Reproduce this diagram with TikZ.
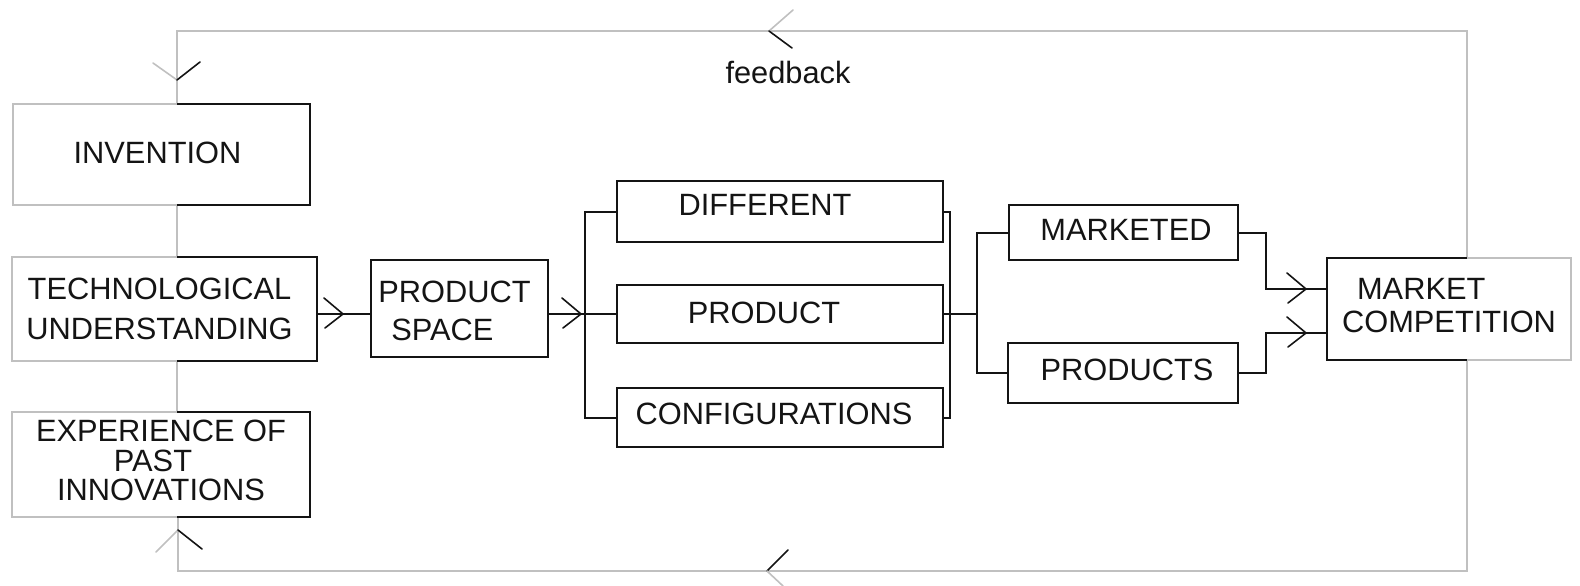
\documentclass[tikz,border=0pt]{standalone}
\usepackage{fontspec}
\setmainfont{Liberation Sans}
\usetikzlibrary{calc}
\definecolor{ink}{RGB}{20,20,20}
\definecolor{fbgray}{RGB}{192,192,192}
\newcommand\shiftedtext[3]{\hspace*{#1}\raisebox{#2}[\height][\depth]{#3}\hspace*{-#1}}
\tikzset{
  blk/.style={draw=ink, line width=2pt},
  gry/.style={draw=fbgray, line width=2pt},
  box/.style={rectangle, inner sep=0pt, outer sep=0pt, text=ink, font=\fontsize{30.8}{36}\selectfont},
  solidbox/.style={box, blk},
  wingb/.style={draw=ink, line width=1.6pt, line cap=round},
  wingg/.style={draw=fbgray, line width=1.6pt, line cap=round},
}
\begin{document}
\begin{tikzpicture}[x=1pt, y=-1pt]
\useasboundingbox (0,0) rectangle (1580,586);

% boxes
\node[box, minimum width=297pt, minimum height=101pt] (inv) at (161.5,154.5) {\shiftedtext{-4pt}{2pt}{INVENTION}};
\node[box, minimum width=305pt, minimum height=104pt, font=\fontsize{30.8}{40}\selectfont] (tech) at (164.5,309)
  {\shiftedtext{-5pt}{-2pt}{\begin{tabular}{@{}c@{}}TECHNOLOGICAL\\UNDERSTANDING\end{tabular}}};
\node[box, minimum width=298pt, minimum height=105pt, font=\fontsize{30.8}{27.5}\selectfont] (exp) at (161,464.5)
  {\begin{tabular}{@{}c@{}}EXPERIENCE OF\\PAST\hspace*{16pt}\\INNOVATIONS\end{tabular}};
\node[solidbox, minimum width=177pt, minimum height=97pt, font=\fontsize{30.8}{38}\selectfont] (ps) at (459.5,308.5)
  {\shiftedtext{-5pt}{-5.6pt}{\begin{tabular}{@{}l@{}}PRODUCT\\\hspace*{13pt}SPACE\end{tabular}}};
\node[solidbox, minimum width=326pt, minimum height=61pt] (diff) at (780,211.5) {\shiftedtext{-15pt}{6.5pt}{DIFFERENT}};
\node[solidbox, minimum width=326pt, minimum height=58pt] (prod) at (780,314) {\shiftedtext{-16pt}{1pt}{PRODUCT}};
\node[solidbox, minimum width=326pt, minimum height=59pt] (conf) at (780,417.5) {\shiftedtext{-6pt}{3.5pt}{CONFIGURATIONS}};
\node[solidbox, minimum width=229pt, minimum height=55pt] (mkt) at (1123.5,232.5) {\shiftedtext{2.5pt}{2.5pt}{MARKETED}};
\node[solidbox, minimum width=230pt, minimum height=60pt] (prods) at (1123,373) {\shiftedtext{4pt}{3pt}{PRODUCTS}};
\node[box, minimum width=244pt, minimum height=102pt, font=\fontsize{30.8}{33}\selectfont] (mc) at (1449,309)
  {\begin{tabular}{@{}l@{}}\hspace*{15pt}MARKET\\COMPETITION\end{tabular}};
\node[box] (fbtext) at (788,72) {feedback};

% feedback loop coordinates
\coordinate (fbL) at (177,31);
\coordinate (fbR) at (1467,31);
\coordinate (fbRb) at (1467,571);
\coordinate (fbLb) at (178,571);

% feedback lines (gray)
\draw[gry] (mc.north -| fbR) -- (fbR) -- (fbL) -- (inv.north -| fbL);
\draw[gry] (mc.south -| fbR) -- (fbRb) -- (fbLb) -- (exp.south -| fbLb);
\draw[gry] (inv.south -| fbL) -- (tech.north -| fbL);
\draw[gry] (tech.south -| fbL) -- (exp.north -| fbL);

% two-tone borders of the left boxes
\foreach \b in {inv,tech,exp}{
  \draw[gry] (\b.north -| fbL) -- (\b.north west) -- (\b.south west) -- (\b.south -| fbL);
  \draw[blk] (\b.north -| fbL) -- (\b.north east) -- (\b.south east) -- (\b.south -| fbL);
}
% two-tone border of market competition
\draw[blk] (mc.north -| fbR) -- (mc.north west) -- (mc.south west) -- (mc.south -| fbR);
\draw[gry] (mc.north -| fbR) -- (mc.north east) -- (mc.south east) -- (mc.south -| fbR);

% main flow
\coordinate (mainy) at (0,314);
\coordinate (lb) at (585,314);
\coordinate (rb) at (950,314);
\coordinate (rb2) at (977,314);
\draw[blk] (tech.east |- mainy) -- (ps.west |- mainy);
\draw[blk] (ps.east |- mainy) -- (prod.west);
\draw[blk] (diff.west) -| (lb) |- (conf.west);
\draw[blk] (diff.east) -| (rb) |- (conf.east);
\draw[blk] (prod.east) -- (rb2);
\draw[blk] (mkt.west) -| (rb2) |- (prods.west);
\draw[blk] (mkt.east) -- ++(28,0) |- ([yshift=20pt]mc.west);
\draw[blk] (prods.east) -- ++(28,0) |- ([yshift=-24pt]mc.west);

% black open arrowheads
\coordinate (a1) at (343,314);
\coordinate (a2) at (581,314);
\coordinate (a3) at (1306,289);
\coordinate (a4) at (1306,333);
\foreach \a in {a1,a2,a3,a4}{
  \draw[wingb] ($(\a)+(-19,-16)$) -- (\a) -- ($(\a)+(-18,14)$);
}

% feedback arrowheads (two-tone)
\coordinate (f1) at (769,31);
\draw[wingg] (793,10) -- (f1);
\draw[wingb] (f1) -- (792,48);
\coordinate (f2) at (177,80);
\draw[wingg] (153,63) -- (f2);
\draw[wingb] (f2) -- (200,62);
\coordinate (f3) at (767,571);
\draw[wingb] (788,550) -- (f3);
\draw[wingg] (f3) -- (783,586);
\coordinate (f4) at (178,530);
\draw[wingg] (156,552) -- (f4);
\draw[wingb] (f4) -- (202,549);
\end{tikzpicture}
\end{document}
